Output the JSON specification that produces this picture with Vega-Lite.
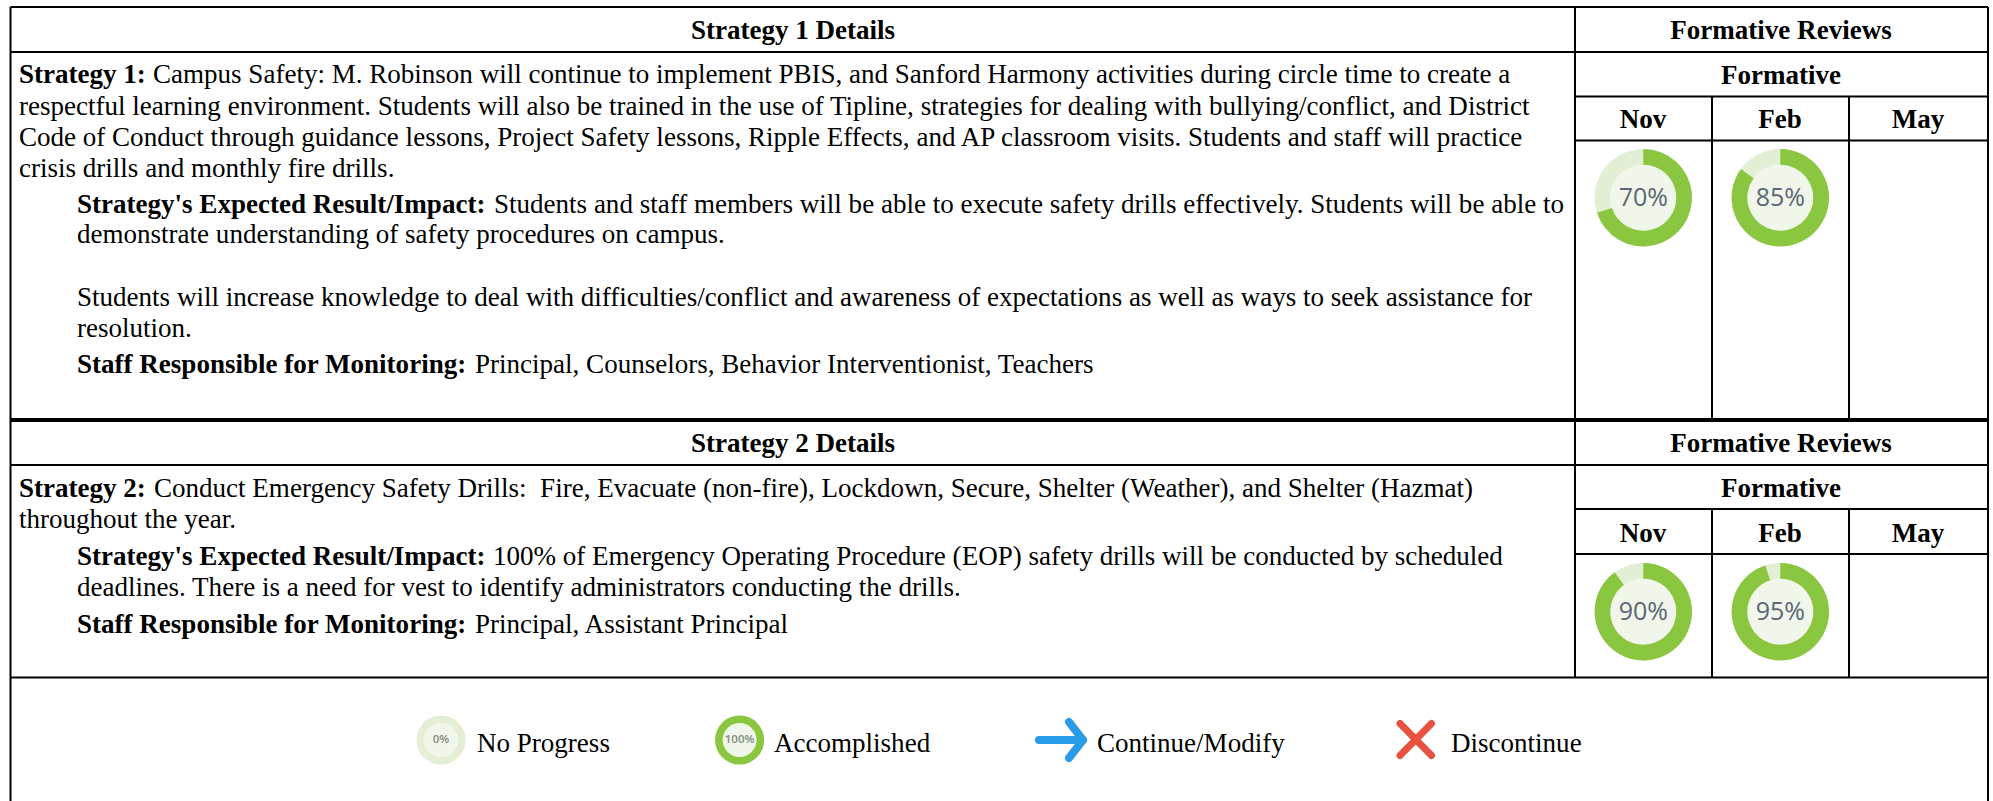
{"$schema":"https://vega.github.io/schema/vega-lite/v6.json","width":1993,"height":801,"padding":0,"autosize":{"type":"fit","contains":"padding"},"background":"white","view":{"stroke":null},
"datasets":{
"lines":[
{"edge":"top","x":10.5,"x2":1988,"y":7,"y2":7},{"edge":"left","x":10.5,"x2":10.5,"y":7,"y2":801},{"edge":"right","x":1988,"x2":1988,"y":7,"y2":801},
{"edge":"header1","x":10.5,"x2":1988,"y":52,"y2":52},{"edge":"divider","x":1575,"x2":1575,"y":7,"y2":677.5},
{"edge":"formative1","x":1575,"x2":1988,"y":96.5,"y2":96.5},{"edge":"months1","x":1575,"x2":1988,"y":140.5,"y2":140.5},
{"edge":"novfeb1","x":1712,"x2":1712,"y":96.5,"y2":420},{"edge":"febmay1","x":1849,"x2":1849,"y":96.5,"y2":420},
{"edge":"header2","x":10.5,"x2":1988,"y":465,"y2":465},{"edge":"formative2","x":1575,"x2":1988,"y":509,"y2":509},{"edge":"months2","x":1575,"x2":1988,"y":554,"y2":554},
{"edge":"novfeb2","x":1712,"x2":1712,"y":509,"y2":677.5},{"edge":"febmay2","x":1849,"x2":1849,"y":509,"y2":677.5},
{"edge":"tableEnd","x":10.5,"x2":1988,"y":677.5,"y2":677.5}],
"thick":[{"edge":"strategySplit","x":10.5,"x2":1988,"y":420,"y2":420}],
"headings":[
{"text":"Strategy 1 Details","x":793,"y":39},{"text":"Formative Reviews","x":1781,"y":39},{"text":"Formative","x":1781,"y":84},{"text":"Nov","x":1643,"y":128},{"text":"Feb","x":1780,"y":128},{"text":"May","x":1918,"y":128},
{"text":"Strategy 2 Details","x":793,"y":452},{"text":"Formative Reviews","x":1781,"y":452},{"text":"Formative","x":1781,"y":497},{"text":"Nov","x":1643,"y":542},{"text":"Feb","x":1780,"y":542},{"text":"May","x":1918,"y":542}],
"labels":[
{"text":"Strategy 1:","x":19,"y":83},{"text":"Strategy's Expected Result/Impact:","x":77,"y":213},{"text":"Staff Responsible for Monitoring:","x":77,"y":373},
{"text":"Strategy 2:","x":19,"y":497},{"text":"Strategy's Expected Result/Impact:","x":77,"y":565},{"text":"Staff Responsible for Monitoring:","x":77,"y":633}],
"body":[
{"text":"Campus Safety: M. Robinson will continue to implement PBIS, and Sanford Harmony activities during circle time to create a","x":153,"y":83},
{"text":"respectful learning environment. Students will also be trained in the use of Tipline, strategies for dealing with bullying/conflict, and District","x":19,"y":115},
{"text":"Code of Conduct through guidance lessons, Project Safety lessons, Ripple Effects, and AP classroom visits. Students and staff will practice","x":19,"y":146},
{"text":"crisis drills and monthly fire drills.","x":19,"y":177},
{"text":"Students and staff members will be able to execute safety drills effectively. Students will be able to","x":494,"y":213},
{"text":"demonstrate understanding of safety procedures on campus.","x":77,"y":243},
{"text":"Students will increase knowledge to deal with difficulties/conflict and awareness of expectations as well as ways to seek assistance for","x":77,"y":306},
{"text":"resolution.","x":77,"y":337},
{"text":"Principal, Counselors, Behavior Interventionist, Teachers","x":475,"y":373},
{"text":"Conduct Emergency Safety Drills:\u00a0 Fire, Evacuate (non-fire), Lockdown, Secure, Shelter (Weather), and Shelter (Hazmat)","x":154,"y":497},
{"text":"throughout the year.","x":19,"y":528},
{"text":"100% of Emergency Operating Procedure (EOP) safety drills will be conducted by scheduled","x":493,"y":565},
{"text":"deadlines. There is a need for vest to identify administrators conducting the drills.","x":77,"y":596},
{"text":"Principal, Assistant Principal","x":475,"y":633},
{"text":"No Progress","x":477,"y":752},{"text":"Accomplished","x":774,"y":752},{"text":"Continue/Modify","x":1097,"y":752},{"text":"Discontinue","x":1451,"y":752}],
"reviews":[
{"strategy":"Strategy 1","month":"Nov","start":0,"full":100,"pct":70,"label":"70%","x":1643.3,"y":197.7},{"strategy":"Strategy 1","month":"Feb","start":0,"full":100,"pct":85,"label":"85%","x":1780.3,"y":197.7},
{"strategy":"Strategy 2","month":"Nov","start":0,"full":100,"pct":90,"label":"90%","x":1643.3,"y":611.7},{"strategy":"Strategy 2","month":"Feb","start":0,"full":100,"pct":95,"label":"95%","x":1780.3,"y":611.7}],
"legendIcons":[{"name":"No Progress","start":0,"full":100,"pct":0,"label":"0%","x":441,"y":740},{"name":"Accomplished","start":0,"full":100,"pct":100,"label":"100%","x":739.6,"y":740}],
"arrow":[{"part":"shaft","x":1039,"x2":1082,"y":740,"y2":740},{"part":"headTop","x":1069,"x2":1083,"y":722,"y2":740},{"part":"headBottom","x":1069,"x2":1083,"y":758,"y2":740}],
"cross":[{"part":"a","x":1400,"x2":1431.5,"y":723.5,"y2":755.5},{"part":"b","x":1431.5,"x2":1400,"y":723.5,"y2":755.5}]
},
"encoding":{
"x":{"field":"x","type":"quantitative","axis":null,"scale":{"domain":[0,1993],"nice":false,"zero":false}},
"y":{"field":"y","type":"quantitative","axis":null,"scale":{"domain":[0,801],"range":[0,801],"nice":false,"zero":false}}},
"layer":[
{"data":{"name":"lines"},"mark":{"type":"rule","color":"#000000","strokeWidth":2},"encoding":{"x2":{"field":"x2"},"y2":{"field":"y2"}}},
{"data":{"name":"thick"},"mark":{"type":"rule","color":"#000000","strokeWidth":4},"encoding":{"x2":{"field":"x2"},"y2":{"field":"y2"}}},
{"data":{"name":"headings"},"mark":{"type":"text","font":"Liberation Serif","fontSize":27.04,"fontWeight":"bold","align":"center","baseline":"alphabetic","color":"#000000"},"encoding":{"text":{"field":"text"}}},
{"data":{"name":"labels"},"mark":{"type":"text","font":"Liberation Serif","fontSize":27.04,"fontWeight":"bold","align":"left","baseline":"alphabetic","color":"#000000"},"encoding":{"text":{"field":"text"}}},
{"data":{"name":"body"},"mark":{"type":"text","font":"Liberation Serif","fontSize":27.04,"align":"left","baseline":"alphabetic","color":"#000000"},"encoding":{"text":{"field":"text"}}},
{"data":{"name":"reviews"},"mark":{"type":"arc","radius":48.7,"radius2":33,"fill":"#E2EFD5"},"encoding":{"theta":{"field":"start","type":"quantitative","stack":null,"scale":{"domain":[0,100],"range":[0,6.28319]}},"theta2":{"field":"full"}}},
{"data":{"name":"reviews"},"mark":{"type":"arc","radius":33,"radius2":0,"fill":"#F0F7EA"},"encoding":{"theta":{"field":"start","type":"quantitative","stack":null,"scale":{"domain":[0,100],"range":[0,6.28319]}},"theta2":{"field":"full"}}},
{"data":{"name":"reviews"},"mark":{"type":"arc","radius":48.7,"radius2":33,"fill":"#8AC63F"},"encoding":{"theta":{"field":"start","type":"quantitative","stack":null,"scale":{"domain":[0,100],"range":[0,6.28319]}},"theta2":{"field":"pct"}}},
{"data":{"name":"reviews"},"mark":{"type":"text","font":"Open Sans","fontSize":25,"align":"center","baseline":"middle","color":"#5C6675"},"encoding":{"text":{"field":"label"}}},
{"data":{"name":"legendIcons"},"mark":{"type":"arc","radius":24.5,"radius2":17,"fill":"#E2EFD5"},"encoding":{"theta":{"field":"start","type":"quantitative","stack":null,"scale":{"domain":[0,100],"range":[0,6.28319]}},"theta2":{"field":"full"}}},
{"data":{"name":"legendIcons"},"mark":{"type":"arc","radius":17,"radius2":0,"fill":"#F0F7EA"},"encoding":{"theta":{"field":"start","type":"quantitative","stack":null,"scale":{"domain":[0,100],"range":[0,6.28319]}},"theta2":{"field":"full"}}},
{"data":{"name":"legendIcons"},"mark":{"type":"arc","radius":24.5,"radius2":17,"fill":"#8AC63F"},"encoding":{"theta":{"field":"start","type":"quantitative","stack":null,"scale":{"domain":[0,100],"range":[0,6.28319]}},"theta2":{"field":"pct"}}},
{"data":{"name":"legendIcons"},"mark":{"type":"text","font":"Open Sans","fontSize":11.5,"fontWeight":600,"align":"center","baseline":"middle","color":"#7F8A80"},"encoding":{"text":{"field":"label"}}},
{"data":{"name":"arrow"},"mark":{"type":"rule","color":"#2A9BE6","strokeWidth":8,"strokeCap":"round"},"encoding":{"x2":{"field":"x2"},"y2":{"field":"y2"}}},
{"data":{"name":"cross"},"mark":{"type":"rule","color":"#E85140","strokeWidth":7,"strokeCap":"round"},"encoding":{"x2":{"field":"x2"},"y2":{"field":"y2"}}}
]}
